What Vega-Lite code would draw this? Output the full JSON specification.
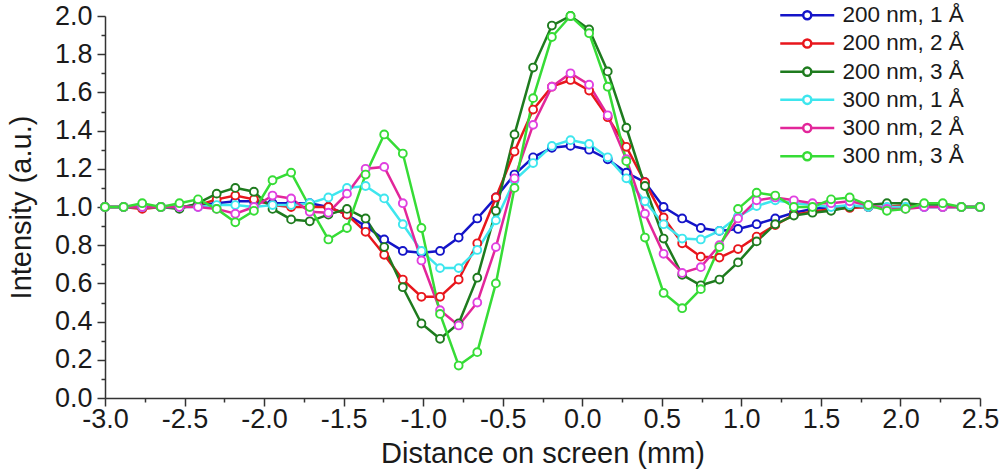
{
  "$schema": "https://vega.github.io/schema/vega-lite/v6.json",
  "width": 875,
  "height": 382,
  "autosize": {"type": "none"},
  "padding": {"left": 105, "top": 16, "right": 25, "bottom": 75},
  "background": "white",
  "config": {
    "view": {"stroke": null},
    "axis": {
      "grid": false,
      "domainColor": "#333333",
      "domainWidth": 1.5,
      "tickColor": "#333333",
      "tickWidth": 1.5,
      "labelFont": "Liberation Sans",
      "labelFontSize": 27,
      "labelColor": "#1a1a1a",
      "titleFont": "Liberation Sans",
      "titleFontSize": 29,
      "titleFontWeight": "normal",
      "titleColor": "#1a1a1a"
    },
    "legend": {
      "labelFont": "Liberation Sans",
      "labelFontSize": 22.5,
      "labelColor": "#1a1a1a"
    }
  },
  "data": {
    "values": [
      {"s":"200 nm, 1 Å","x":-3.000,"y":1.0},{"s":"200 nm, 1 Å","x":-2.883,"y":1.0},{"s":"200 nm, 1 Å","x":-2.766,"y":1.0},{"s":"200 nm, 1 Å","x":-2.649,"y":1.0},{"s":"200 nm, 1 Å","x":-2.532,"y":1.0},{"s":"200 nm, 1 Å","x":-2.415,"y":1.01},{"s":"200 nm, 1 Å","x":-2.298,"y":1.02},{"s":"200 nm, 1 Å","x":-2.181,"y":1.03},{"s":"200 nm, 1 Å","x":-2.064,"y":1.03},{"s":"200 nm, 1 Å","x":-1.947,"y":1.02},{"s":"200 nm, 1 Å","x":-1.830,"y":1.02},{"s":"200 nm, 1 Å","x":-1.713,"y":1.02},{"s":"200 nm, 1 Å","x":-1.596,"y":1.0},{"s":"200 nm, 1 Å","x":-1.479,"y":0.96},{"s":"200 nm, 1 Å","x":-1.362,"y":0.9},{"s":"200 nm, 1 Å","x":-1.245,"y":0.83},{"s":"200 nm, 1 Å","x":-1.128,"y":0.77},{"s":"200 nm, 1 Å","x":-1.011,"y":0.76},{"s":"200 nm, 1 Å","x":-0.894,"y":0.77},{"s":"200 nm, 1 Å","x":-0.777,"y":0.84},{"s":"200 nm, 1 Å","x":-0.660,"y":0.94},{"s":"200 nm, 1 Å","x":-0.543,"y":1.05},{"s":"200 nm, 1 Å","x":-0.426,"y":1.17},{"s":"200 nm, 1 Å","x":-0.309,"y":1.26},{"s":"200 nm, 1 Å","x":-0.191,"y":1.31},{"s":"200 nm, 1 Å","x":-0.074,"y":1.32},{"s":"200 nm, 1 Å","x":0.043,"y":1.3},{"s":"200 nm, 1 Å","x":0.160,"y":1.25},{"s":"200 nm, 1 Å","x":0.277,"y":1.18},{"s":"200 nm, 1 Å","x":0.394,"y":1.13},{"s":"200 nm, 1 Å","x":0.511,"y":1.0},{"s":"200 nm, 1 Å","x":0.628,"y":0.94},{"s":"200 nm, 1 Å","x":0.745,"y":0.89},{"s":"200 nm, 1 Å","x":0.862,"y":0.875},{"s":"200 nm, 1 Å","x":0.979,"y":0.885},{"s":"200 nm, 1 Å","x":1.096,"y":0.91},{"s":"200 nm, 1 Å","x":1.213,"y":0.94},{"s":"200 nm, 1 Å","x":1.330,"y":0.97},{"s":"200 nm, 1 Å","x":1.447,"y":0.99},{"s":"200 nm, 1 Å","x":1.564,"y":1.0},{"s":"200 nm, 1 Å","x":1.681,"y":1.0},{"s":"200 nm, 1 Å","x":1.798,"y":1.0},{"s":"200 nm, 1 Å","x":1.915,"y":1.0},{"s":"200 nm, 1 Å","x":2.032,"y":1.0},{"s":"200 nm, 1 Å","x":2.149,"y":1.0},{"s":"200 nm, 1 Å","x":2.266,"y":1.0},{"s":"200 nm, 1 Å","x":2.383,"y":1.0},{"s":"200 nm, 1 Å","x":2.500,"y":1.0},

      {"s":"200 nm, 2 Å","x":-3.000,"y":1.0},{"s":"200 nm, 2 Å","x":-2.883,"y":1.0},{"s":"200 nm, 2 Å","x":-2.766,"y":0.99},{"s":"200 nm, 2 Å","x":-2.649,"y":1.0},{"s":"200 nm, 2 Å","x":-2.532,"y":1.0},{"s":"200 nm, 2 Å","x":-2.415,"y":1.01},{"s":"200 nm, 2 Å","x":-2.298,"y":1.04},{"s":"200 nm, 2 Å","x":-2.181,"y":1.06},{"s":"200 nm, 2 Å","x":-2.064,"y":1.04},{"s":"200 nm, 2 Å","x":-1.947,"y":1.01},{"s":"200 nm, 2 Å","x":-1.830,"y":1.0},{"s":"200 nm, 2 Å","x":-1.713,"y":1.0},{"s":"200 nm, 2 Å","x":-1.596,"y":1.0},{"s":"200 nm, 2 Å","x":-1.479,"y":0.96},{"s":"200 nm, 2 Å","x":-1.362,"y":0.87},{"s":"200 nm, 2 Å","x":-1.245,"y":0.75},{"s":"200 nm, 2 Å","x":-1.128,"y":0.62},{"s":"200 nm, 2 Å","x":-1.011,"y":0.53},{"s":"200 nm, 2 Å","x":-0.894,"y":0.53},{"s":"200 nm, 2 Å","x":-0.777,"y":0.62},{"s":"200 nm, 2 Å","x":-0.660,"y":0.81},{"s":"200 nm, 2 Å","x":-0.543,"y":1.05},{"s":"200 nm, 2 Å","x":-0.426,"y":1.29},{"s":"200 nm, 2 Å","x":-0.309,"y":1.51},{"s":"200 nm, 2 Å","x":-0.191,"y":1.63},{"s":"200 nm, 2 Å","x":-0.074,"y":1.665},{"s":"200 nm, 2 Å","x":0.043,"y":1.61},{"s":"200 nm, 2 Å","x":0.160,"y":1.47},{"s":"200 nm, 2 Å","x":0.277,"y":1.315},{"s":"200 nm, 2 Å","x":0.394,"y":1.13},{"s":"200 nm, 2 Å","x":0.511,"y":0.945},{"s":"200 nm, 2 Å","x":0.628,"y":0.81},{"s":"200 nm, 2 Å","x":0.745,"y":0.74},{"s":"200 nm, 2 Å","x":0.862,"y":0.735},{"s":"200 nm, 2 Å","x":0.979,"y":0.78},{"s":"200 nm, 2 Å","x":1.096,"y":0.845},{"s":"200 nm, 2 Å","x":1.213,"y":0.905},{"s":"200 nm, 2 Å","x":1.330,"y":0.96},{"s":"200 nm, 2 Å","x":1.447,"y":0.975},{"s":"200 nm, 2 Å","x":1.564,"y":0.99},{"s":"200 nm, 2 Å","x":1.681,"y":0.995},{"s":"200 nm, 2 Å","x":1.798,"y":1.0},{"s":"200 nm, 2 Å","x":1.915,"y":1.0},{"s":"200 nm, 2 Å","x":2.032,"y":1.01},{"s":"200 nm, 2 Å","x":2.149,"y":1.01},{"s":"200 nm, 2 Å","x":2.266,"y":1.0},{"s":"200 nm, 2 Å","x":2.383,"y":1.0},{"s":"200 nm, 2 Å","x":2.500,"y":1.0},

      {"s":"200 nm, 3 Å","x":-3.000,"y":1.0},{"s":"200 nm, 3 Å","x":-2.883,"y":1.0},{"s":"200 nm, 3 Å","x":-2.766,"y":1.0},{"s":"200 nm, 3 Å","x":-2.649,"y":1.0},{"s":"200 nm, 3 Å","x":-2.532,"y":0.99},{"s":"200 nm, 3 Å","x":-2.415,"y":1.02},{"s":"200 nm, 3 Å","x":-2.298,"y":1.07},{"s":"200 nm, 3 Å","x":-2.181,"y":1.1},{"s":"200 nm, 3 Å","x":-2.064,"y":1.08},{"s":"200 nm, 3 Å","x":-1.947,"y":0.99},{"s":"200 nm, 3 Å","x":-1.830,"y":0.935},{"s":"200 nm, 3 Å","x":-1.713,"y":0.925},{"s":"200 nm, 3 Å","x":-1.596,"y":0.96},{"s":"200 nm, 3 Å","x":-1.479,"y":0.99},{"s":"200 nm, 3 Å","x":-1.362,"y":0.94},{"s":"200 nm, 3 Å","x":-1.245,"y":0.79},{"s":"200 nm, 3 Å","x":-1.128,"y":0.58},{"s":"200 nm, 3 Å","x":-1.011,"y":0.39},{"s":"200 nm, 3 Å","x":-0.894,"y":0.31},{"s":"200 nm, 3 Å","x":-0.777,"y":0.39},{"s":"200 nm, 3 Å","x":-0.660,"y":0.63},{"s":"200 nm, 3 Å","x":-0.543,"y":0.98},{"s":"200 nm, 3 Å","x":-0.426,"y":1.38},{"s":"200 nm, 3 Å","x":-0.309,"y":1.73},{"s":"200 nm, 3 Å","x":-0.191,"y":1.95},{"s":"200 nm, 3 Å","x":-0.074,"y":2.0},{"s":"200 nm, 3 Å","x":0.043,"y":1.93},{"s":"200 nm, 3 Å","x":0.160,"y":1.71},{"s":"200 nm, 3 Å","x":0.277,"y":1.415},{"s":"200 nm, 3 Å","x":0.394,"y":1.11},{"s":"200 nm, 3 Å","x":0.511,"y":0.835},{"s":"200 nm, 3 Å","x":0.628,"y":0.645},{"s":"200 nm, 3 Å","x":0.745,"y":0.59},{"s":"200 nm, 3 Å","x":0.862,"y":0.62},{"s":"200 nm, 3 Å","x":0.979,"y":0.71},{"s":"200 nm, 3 Å","x":1.096,"y":0.82},{"s":"200 nm, 3 Å","x":1.213,"y":0.91},{"s":"200 nm, 3 Å","x":1.330,"y":0.955},{"s":"200 nm, 3 Å","x":1.447,"y":0.97},{"s":"200 nm, 3 Å","x":1.564,"y":0.98},{"s":"200 nm, 3 Å","x":1.681,"y":1.0},{"s":"200 nm, 3 Å","x":1.798,"y":1.01},{"s":"200 nm, 3 Å","x":1.915,"y":1.02},{"s":"200 nm, 3 Å","x":2.032,"y":1.02},{"s":"200 nm, 3 Å","x":2.149,"y":1.01},{"s":"200 nm, 3 Å","x":2.266,"y":1.01},{"s":"200 nm, 3 Å","x":2.383,"y":1.0},{"s":"200 nm, 3 Å","x":2.500,"y":1.0},

      {"s":"300 nm, 1 Å","x":-3.000,"y":1.0},{"s":"300 nm, 1 Å","x":-2.883,"y":1.0},{"s":"300 nm, 1 Å","x":-2.766,"y":1.0},{"s":"300 nm, 1 Å","x":-2.649,"y":1.0},{"s":"300 nm, 1 Å","x":-2.532,"y":1.0},{"s":"300 nm, 1 Å","x":-2.415,"y":1.0},{"s":"300 nm, 1 Å","x":-2.298,"y":1.01},{"s":"300 nm, 1 Å","x":-2.181,"y":1.01},{"s":"300 nm, 1 Å","x":-2.064,"y":1.0},{"s":"300 nm, 1 Å","x":-1.947,"y":1.01},{"s":"300 nm, 1 Å","x":-1.830,"y":1.01},{"s":"300 nm, 1 Å","x":-1.713,"y":1.02},{"s":"300 nm, 1 Å","x":-1.596,"y":1.05},{"s":"300 nm, 1 Å","x":-1.479,"y":1.1},{"s":"300 nm, 1 Å","x":-1.362,"y":1.11},{"s":"300 nm, 1 Å","x":-1.245,"y":1.045},{"s":"300 nm, 1 Å","x":-1.128,"y":0.91},{"s":"300 nm, 1 Å","x":-1.011,"y":0.77},{"s":"300 nm, 1 Å","x":-0.894,"y":0.68},{"s":"300 nm, 1 Å","x":-0.777,"y":0.68},{"s":"300 nm, 1 Å","x":-0.660,"y":0.775},{"s":"300 nm, 1 Å","x":-0.543,"y":0.93},{"s":"300 nm, 1 Å","x":-0.426,"y":1.14},{"s":"300 nm, 1 Å","x":-0.309,"y":1.23},{"s":"300 nm, 1 Å","x":-0.191,"y":1.32},{"s":"300 nm, 1 Å","x":-0.074,"y":1.35},{"s":"300 nm, 1 Å","x":0.043,"y":1.33},{"s":"300 nm, 1 Å","x":0.160,"y":1.26},{"s":"300 nm, 1 Å","x":0.277,"y":1.15},{"s":"300 nm, 1 Å","x":0.394,"y":1.03},{"s":"300 nm, 1 Å","x":0.511,"y":0.91},{"s":"300 nm, 1 Å","x":0.628,"y":0.835},{"s":"300 nm, 1 Å","x":0.745,"y":0.83},{"s":"300 nm, 1 Å","x":0.862,"y":0.875},{"s":"300 nm, 1 Å","x":0.979,"y":0.95},{"s":"300 nm, 1 Å","x":1.096,"y":1.005},{"s":"300 nm, 1 Å","x":1.213,"y":1.035},{"s":"300 nm, 1 Å","x":1.330,"y":1.02},{"s":"300 nm, 1 Å","x":1.447,"y":1.01},{"s":"300 nm, 1 Å","x":1.564,"y":1.0},{"s":"300 nm, 1 Å","x":1.681,"y":1.01},{"s":"300 nm, 1 Å","x":1.798,"y":1.0},{"s":"300 nm, 1 Å","x":1.915,"y":1.0},{"s":"300 nm, 1 Å","x":2.032,"y":1.0},{"s":"300 nm, 1 Å","x":2.149,"y":1.0},{"s":"300 nm, 1 Å","x":2.266,"y":1.0},{"s":"300 nm, 1 Å","x":2.383,"y":1.0},{"s":"300 nm, 1 Å","x":2.500,"y":1.0},

      {"s":"300 nm, 2 Å","x":-3.000,"y":1.0},{"s":"300 nm, 2 Å","x":-2.883,"y":1.0},{"s":"300 nm, 2 Å","x":-2.766,"y":1.0},{"s":"300 nm, 2 Å","x":-2.649,"y":1.0},{"s":"300 nm, 2 Å","x":-2.532,"y":1.0},{"s":"300 nm, 2 Å","x":-2.415,"y":1.0},{"s":"300 nm, 2 Å","x":-2.298,"y":0.99},{"s":"300 nm, 2 Å","x":-2.181,"y":0.965},{"s":"300 nm, 2 Å","x":-2.064,"y":1.0},{"s":"300 nm, 2 Å","x":-1.947,"y":1.06},{"s":"300 nm, 2 Å","x":-1.830,"y":1.045},{"s":"300 nm, 2 Å","x":-1.713,"y":0.975},{"s":"300 nm, 2 Å","x":-1.596,"y":0.97},{"s":"300 nm, 2 Å","x":-1.479,"y":1.07},{"s":"300 nm, 2 Å","x":-1.362,"y":1.2},{"s":"300 nm, 2 Å","x":-1.245,"y":1.21},{"s":"300 nm, 2 Å","x":-1.128,"y":1.02},{"s":"300 nm, 2 Å","x":-1.011,"y":0.72},{"s":"300 nm, 2 Å","x":-0.894,"y":0.46},{"s":"300 nm, 2 Å","x":-0.777,"y":0.38},{"s":"300 nm, 2 Å","x":-0.660,"y":0.5},{"s":"300 nm, 2 Å","x":-0.543,"y":0.79},{"s":"300 nm, 2 Å","x":-0.426,"y":1.15},{"s":"300 nm, 2 Å","x":-0.309,"y":1.43},{"s":"300 nm, 2 Å","x":-0.191,"y":1.63},{"s":"300 nm, 2 Å","x":-0.074,"y":1.7},{"s":"300 nm, 2 Å","x":0.043,"y":1.64},{"s":"300 nm, 2 Å","x":0.160,"y":1.48},{"s":"300 nm, 2 Å","x":0.277,"y":1.25},{"s":"300 nm, 2 Å","x":0.394,"y":0.965},{"s":"300 nm, 2 Å","x":0.511,"y":0.755},{"s":"300 nm, 2 Å","x":0.628,"y":0.655},{"s":"300 nm, 2 Å","x":0.745,"y":0.685},{"s":"300 nm, 2 Å","x":0.862,"y":0.8},{"s":"300 nm, 2 Å","x":0.979,"y":0.94},{"s":"300 nm, 2 Å","x":1.096,"y":1.035},{"s":"300 nm, 2 Å","x":1.213,"y":1.05},{"s":"300 nm, 2 Å","x":1.330,"y":1.035},{"s":"300 nm, 2 Å","x":1.447,"y":1.02},{"s":"300 nm, 2 Å","x":1.564,"y":1.02},{"s":"300 nm, 2 Å","x":1.681,"y":1.03},{"s":"300 nm, 2 Å","x":1.798,"y":1.01},{"s":"300 nm, 2 Å","x":1.915,"y":0.99},{"s":"300 nm, 2 Å","x":2.032,"y":0.99},{"s":"300 nm, 2 Å","x":2.149,"y":1.0},{"s":"300 nm, 2 Å","x":2.266,"y":1.0},{"s":"300 nm, 2 Å","x":2.383,"y":1.0},{"s":"300 nm, 2 Å","x":2.500,"y":1.0},

      {"s":"300 nm, 3 Å","x":-3.000,"y":1.0},{"s":"300 nm, 3 Å","x":-2.883,"y":1.0},{"s":"300 nm, 3 Å","x":-2.766,"y":1.02},{"s":"300 nm, 3 Å","x":-2.649,"y":1.0},{"s":"300 nm, 3 Å","x":-2.532,"y":1.02},{"s":"300 nm, 3 Å","x":-2.415,"y":1.04},{"s":"300 nm, 3 Å","x":-2.298,"y":0.99},{"s":"300 nm, 3 Å","x":-2.181,"y":0.92},{"s":"300 nm, 3 Å","x":-2.064,"y":0.98},{"s":"300 nm, 3 Å","x":-1.947,"y":1.14},{"s":"300 nm, 3 Å","x":-1.830,"y":1.18},{"s":"300 nm, 3 Å","x":-1.713,"y":1.0},{"s":"300 nm, 3 Å","x":-1.596,"y":0.83},{"s":"300 nm, 3 Å","x":-1.479,"y":0.89},{"s":"300 nm, 3 Å","x":-1.362,"y":1.17},{"s":"300 nm, 3 Å","x":-1.245,"y":1.38},{"s":"300 nm, 3 Å","x":-1.128,"y":1.28},{"s":"300 nm, 3 Å","x":-1.011,"y":0.89},{"s":"300 nm, 3 Å","x":-0.894,"y":0.44},{"s":"300 nm, 3 Å","x":-0.777,"y":0.17},{"s":"300 nm, 3 Å","x":-0.660,"y":0.24},{"s":"300 nm, 3 Å","x":-0.543,"y":0.6},{"s":"300 nm, 3 Å","x":-0.426,"y":1.1},{"s":"300 nm, 3 Å","x":-0.309,"y":1.57},{"s":"300 nm, 3 Å","x":-0.191,"y":1.89},{"s":"300 nm, 3 Å","x":-0.074,"y":2.0},{"s":"300 nm, 3 Å","x":0.043,"y":1.91},{"s":"300 nm, 3 Å","x":0.160,"y":1.63},{"s":"300 nm, 3 Å","x":0.277,"y":1.24},{"s":"300 nm, 3 Å","x":0.394,"y":0.84},{"s":"300 nm, 3 Å","x":0.511,"y":0.55},{"s":"300 nm, 3 Å","x":0.628,"y":0.47},{"s":"300 nm, 3 Å","x":0.745,"y":0.57},{"s":"300 nm, 3 Å","x":0.862,"y":0.79},{"s":"300 nm, 3 Å","x":0.979,"y":0.99},{"s":"300 nm, 3 Å","x":1.096,"y":1.075},{"s":"300 nm, 3 Å","x":1.213,"y":1.06},{"s":"300 nm, 3 Å","x":1.330,"y":1.0},{"s":"300 nm, 3 Å","x":1.447,"y":1.0},{"s":"300 nm, 3 Å","x":1.564,"y":1.04},{"s":"300 nm, 3 Å","x":1.681,"y":1.05},{"s":"300 nm, 3 Å","x":1.798,"y":1.01},{"s":"300 nm, 3 Å","x":1.915,"y":0.98},{"s":"300 nm, 3 Å","x":2.032,"y":0.99},{"s":"300 nm, 3 Å","x":2.149,"y":1.02},{"s":"300 nm, 3 Å","x":2.266,"y":1.02},{"s":"300 nm, 3 Å","x":2.383,"y":1.0},{"s":"300 nm, 3 Å","x":2.500,"y":1.0}
    ]
  },
  "layer": [
    {
      "mark": {"type": "line", "strokeWidth": 2.5},
      "encoding": {
        "x": {
          "field": "x", "type": "quantitative",
          "scale": {"domain": [-3, 2.5], "nice": false, "zero": false},
          "axis": {
            "values": [-3, -2.5, -2, -1.5, -1, -0.5, 0, 0.5, 1, 1.5, 2, 2.5],
            "labelExpr": "replace(format(datum.value, '.1f'), '−', '-')",
            "tickSize": 8, "labelPadding": 0,
            "title": "Distance on screen (mm)", "titlePadding": 7, "labelFlush": false
          }
        },
        "y": {
          "field": "y", "type": "quantitative",
          "scale": {"domain": [0, 2], "nice": false},
          "axis": {
            "values": [0, 0.2, 0.4, 0.6, 0.8, 1.0, 1.2, 1.4, 1.6, 1.8, 2.0],
            "format": ".1f", "tickSize": 8, "labelPadding": 5,
            "title": "Intensity (a.u.)", "titlePadding": 18
          }
        },
        "color": {
          "field": "s", "type": "nominal",
          "scale": {
            "domain": ["200 nm, 1 Å", "200 nm, 2 Å", "200 nm, 3 Å", "300 nm, 1 Å", "300 nm, 2 Å", "300 nm, 3 Å"],
            "range": ["#1414C8", "#E8161C", "#1E7B1E", "#3EE6EE", "#E2269A", "#36DC36"]
          },
          "legend": {
            "orient": "none", "legendX": 691, "legendY": -12,
            "title": null, "padding": 0,
            "symbolType": "M-3,0H-0.45M0.45,0H3M0.45,0A0.45,0.45,0,1,1,-0.45,0A0.45,0.45,0,1,1,0.45,0Z",
            "symbolSize": 324, "symbolStrokeWidth": 2.5,
            "labelOffset": 24, "rowPadding": 5.2
          }
        }
      }
    },
    {
      "mark": {"type": "point", "shape": "circle", "size": 62, "strokeWidth": 1.9, "filled": false, "fill": "white", "opacity": 1},
      "encoding": {
        "x": {
          "field": "x", "type": "quantitative",
          "axis": {
            "values": [-2.75, -2.25, -1.75, -1.25, -0.75, -0.25, 0.25, 0.75, 1.25, 1.75, 2.25],
            "orient": "bottom", "labels": false, "domain": false, "tickSize": 4, "title": null
          }
        },
        "y": {
          "field": "y", "type": "quantitative",
          "axis": {
            "values": [0.1, 0.3, 0.5, 0.7, 0.9, 1.1, 1.3, 1.5, 1.7, 1.9],
            "orient": "left", "labels": false, "domain": false, "tickSize": 4, "title": null
          }
        },
        "stroke": {
          "field": "s", "type": "nominal",
          "scale": {
            "domain": ["200 nm, 1 Å", "200 nm, 2 Å", "200 nm, 3 Å", "300 nm, 1 Å", "300 nm, 2 Å", "300 nm, 3 Å"],
            "range": ["#1414C8", "#E8161C", "#1E7B1E", "#3EE6EE", "#E040E0", "#36DC36"]
          },
          "legend": null
        }
      }
    }
  ],
  "resolve": {"axis": {"x": "independent", "y": "independent"}}
}
